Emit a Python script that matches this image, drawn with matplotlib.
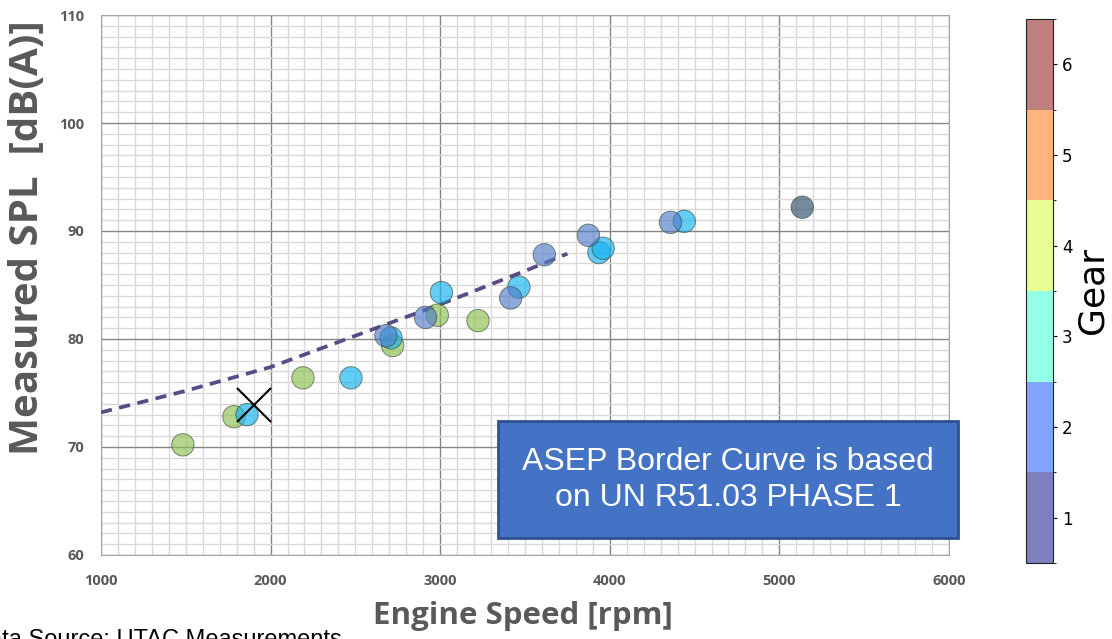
import numpy as np
import matplotlib
matplotlib.use("Agg")
import matplotlib.pyplot as plt
from matplotlib.colors import ListedColormap, BoundaryNorm
from matplotlib.cm import ScalarMappable
from matplotlib.patches import Rectangle

# measured pass-by points
speed_rpm = [1483, 1784, 2191, 2720, 2983, 3223,
             1861, 2474, 2710, 3007, 3464, 3936, 3961, 4439,
             2680, 2914, 3416, 3614, 3874, 4358,
             5135]
spl_db = [70.2, 72.8, 76.4, 79.4, 82.2, 81.7,
          73.0, 76.4, 80.1, 84.3, 84.8, 88.0, 88.4, 90.9,
          80.3, 82.0, 83.8, 87.8, 89.6, 90.8,
          92.2]
gear = [4, 4, 4, 4, 4, 4,
        3, 3, 3, 3, 3, 3, 3, 3,
        2, 2, 2, 2, 2, 2,
        1]

# ASEP border curve
border_rpm = [1000, 1500, 2000, 2500, 3000, 3500, 3750]
border_db = [73.2, 75.2, 77.4, 80.3, 83.2, 86.3, 87.9]

# anchor point (the black cross)
anchor_rpm = [1900]
anchor_db = [73.9]

gear_ticks = [1, 2, 3, 4, 5, 6]

gear_face = {1: '#304e6d', 2: '#517cc9', 3: '#11b2f0', 4: '#8cc14e'}

fig = plt.figure(figsize=(11.12, 6.39), dpi=100)
ax = fig.add_axes([0.0908, 0.1315, 0.7626, 0.845])

ax.set_xlim(1000, 6000)
ax.set_ylim(60, 110)
ax.set_xticks(np.arange(1000, 6001, 1000))
ax.set_yticks(np.arange(60, 111, 10))
ax.set_xticks(np.arange(1000, 6001, 100), minor=True)
ax.set_yticks(np.arange(60, 111, 1), minor=True)
ax.grid(which='minor', color='#d9d9d9', lw=1.0, zorder=0)
ax.grid(which='major', color='#868686', lw=1.0, zorder=0)
ax.set_axisbelow(True)
for s in ax.spines.values():
    s.set_color('#a6a6a6')
ax.tick_params(which='both', length=0)
ax.tick_params(axis='x', pad=14)
ax.tick_params(axis='y', pad=12)
for lab in ax.get_xticklabels() + ax.get_yticklabels():
    lab.set_family('Open Sans')
    lab.set_weight('bold')
    lab.set_color('#595959')
    lab.set_fontsize(10.5)

ax.plot(border_rpm, border_db, ls=(0, (3, 2)), color='#5a4a86', lw=2.7, zorder=3)

cols = [gear_face[g] for g in gear]
ax.scatter(speed_rpm, spl_db, s=260, c=cols, alpha=0.65,
           edgecolors='#3a4a3a', linewidths=0.7, zorder=4)

ax.plot(anchor_rpm, anchor_db, marker='x', ms=24, mew=1.5, color='black',
        ls='none', zorder=5)

ax.set_xlabel('Engine Speed [rpm]', family='Open Sans', weight='bold',
              color='#595959', fontsize=22.5)
ax.xaxis.set_label_coords(0.498, -0.085)
ax.set_ylabel('Measured SPL  [dB(A)]', family='Open Sans', weight='bold',
              color='#595959', fontsize=29)
ax.yaxis.set_label_coords(-0.064, 0.587)

# text box
fig.patches.append(Rectangle((498 / 1112, 1 - 538 / 639), 460 / 1112, 117 / 639,
                             transform=fig.transFigure, facecolor='#4472c4',
                             edgecolor='#2f528f', lw=2, zorder=10))
fig.text((498 + 958) / 2 / 1112, 1 - 480 / 639,
         'ASEP Border Curve is based\non UN R51.03 PHASE 1',
         ha='center', va='center', color='white', fontsize=23,
         family='Liberation Sans', linespacing=1.22, zorder=11)

fig.text(-28 / 1112, 1 - 629 / 639, 'Data Source: UTAC Measurements',
         ha='left', va='top', fontsize=17, family='Liberation Sans', color='black')

# colorbar
jet = plt.cm.jet(np.linspace(0, 1, 6))
jet[:, 3] = 0.5
cmap = ListedColormap(jet)
norm = BoundaryNorm(np.arange(0.5, 7.0, 1.0), cmap.N)
cax = fig.add_axes([1026 / 1112, 1 - 563 / 639, 27 / 1112, 544 / 639])
cb = fig.colorbar(ScalarMappable(norm=norm, cmap=cmap), cax=cax, ticks=gear_ticks)
cb.ax.tick_params(labelsize=12, length=3)
cb.set_label('Gear', fontsize=26, labelpad=2)
cb.outline.set_edgecolor('#222222')

fig.savefig('out.png', dpi=100)
